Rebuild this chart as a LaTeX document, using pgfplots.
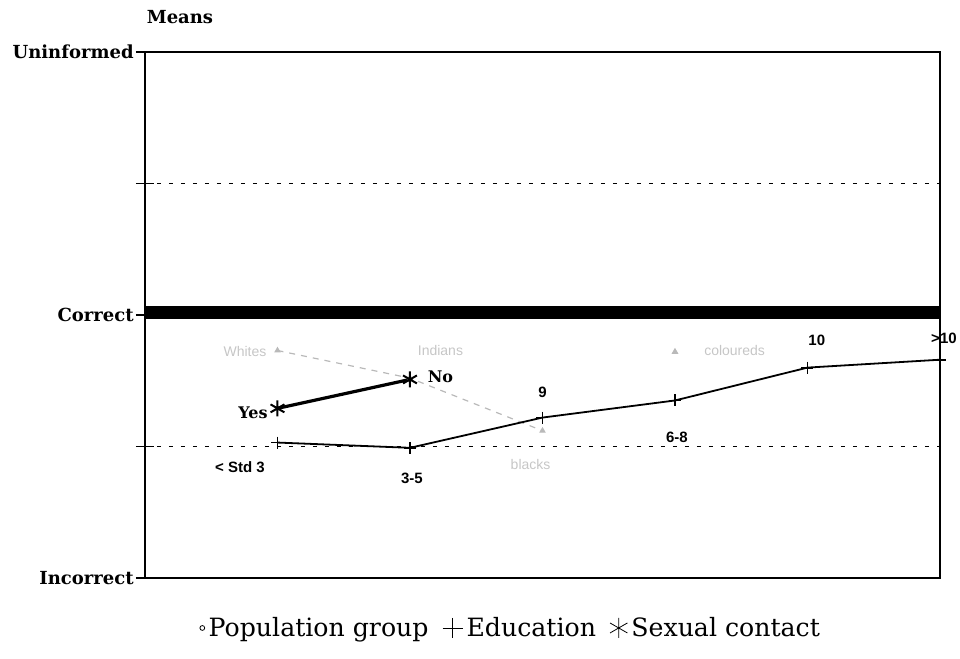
\documentclass[border=0pt]{standalone}
\usepackage{pgfplots}
\pgfplotsset{compat=1.18}
\usepackage{fontspec}
\setmainfont{DejaVu Serif}
\newfontfamily\labsans{Liberation Sans}
\begin{document}
\begin{tikzpicture}
\useasboundingbox (-72.5pt,-40.5pt) rectangle (407.5pt,289pt);
\begin{axis}[
  at={(0,0)}, anchor=south west,
  scale only axis, width=397.5pt, height=263pt,
  xmin=0, xmax=6, ymin=0, ymax=4,
  xtick=\empty,
  ytick={0,1,2,3,4},
  ytick pos=left,
  yticklabels={Incorrect,,Correct,,Uninformed},
  yticklabel style={font=\bfseries\fontsize{9}{10}\selectfont, inner sep=1pt},
  tick align=center, major tick length=9pt,
  ytick style={black, line width=0.6pt},
  ymajorgrids, grid style={black, line width=0.6pt, dash pattern=on 2pt off 4pt},
  axis line style={line width=0.7pt},
  clip=false,
  legend style={draw=none, at={(0.4616,-0.095)}, anchor=center,
    legend columns=3, font=\fontsize{12.6}{14}\selectfont,
    /tikz/every even column/.append style={column sep=5pt}},
]
% Correct band
\addplot[black, line width=6.5pt, forget plot] coordinates {(0,2.02) (6,2.02)};
% Population group
\addplot[gray!55, dashed, line width=0.6pt, mark=triangle*, mark size=1.3pt,
  mark options={solid}, forget plot] coordinates {(1,1.73) (2,1.52) (3,1.12)};
\addplot[gray!55, only marks, mark=triangle*, mark size=1.6pt, forget plot]
  coordinates {(4,1.72)};
% Education
\addplot[black, line width=0.9pt, mark=+, mark size=3pt, forget plot]
  coordinates {(1,1.03) (2,0.99) (3,1.22) (4,1.35) (5,1.60) (6,1.66)};
% Sexual contact
\addplot[black, line width=1.6pt, mark=asterisk, mark size=4pt,
  mark options={line width=1pt}, forget plot]
  coordinates {(1,1.29) (2,1.51)};
% legend
\addlegendimage{only marks, mark=o, mark size=1.2pt, black}
\addlegendentry{Population group}
\addlegendimage{only marks, mark=+, mark size=5pt, black, thin}
\addlegendentry{Education}
\addlegendimage{only marks, mark=asterisk, mark size=5pt, black}
\addlegendentry{Sexual contact}
% labels
\begin{scope}[every node/.style={font=\labsans\bfseries\fontsize{7.5}{9}\selectfont}]
\node at (axis cs:0.717,0.844) {< Std 3};
\node at (axis cs:2.015,0.76) {3-5};
\node at (axis cs:3,1.414) {9};
\node at (axis cs:4.015,1.072) {6-8};
\node at (axis cs:5.07,1.81) {10};
\node at (axis cs:6.03,1.825) {>10};
\end{scope}
\begin{scope}[every node/.style={font=\bfseries\fontsize{8}{9}\selectfont}]
\node at (axis cs:0.815,1.255) {Yes};
\node at (axis cs:2.23,1.53) {No};
\end{scope}
\begin{scope}[every node/.style={text=gray!45, font=\labsans\fontsize{7}{8}\selectfont}]
\node at (axis cs:0.755,1.72) {Whites};
\node at (axis cs:2.23,1.73) {Indians};
\node at (axis cs:2.91,0.86) {blacks};
\node at (axis cs:4.45,1.73) {coloureds};
\end{scope}
\end{axis}
\node[font=\bfseries\fontsize{9}{10}\selectfont] at (17.5pt,280.5pt) {Means};
\end{tikzpicture}
\end{document}
